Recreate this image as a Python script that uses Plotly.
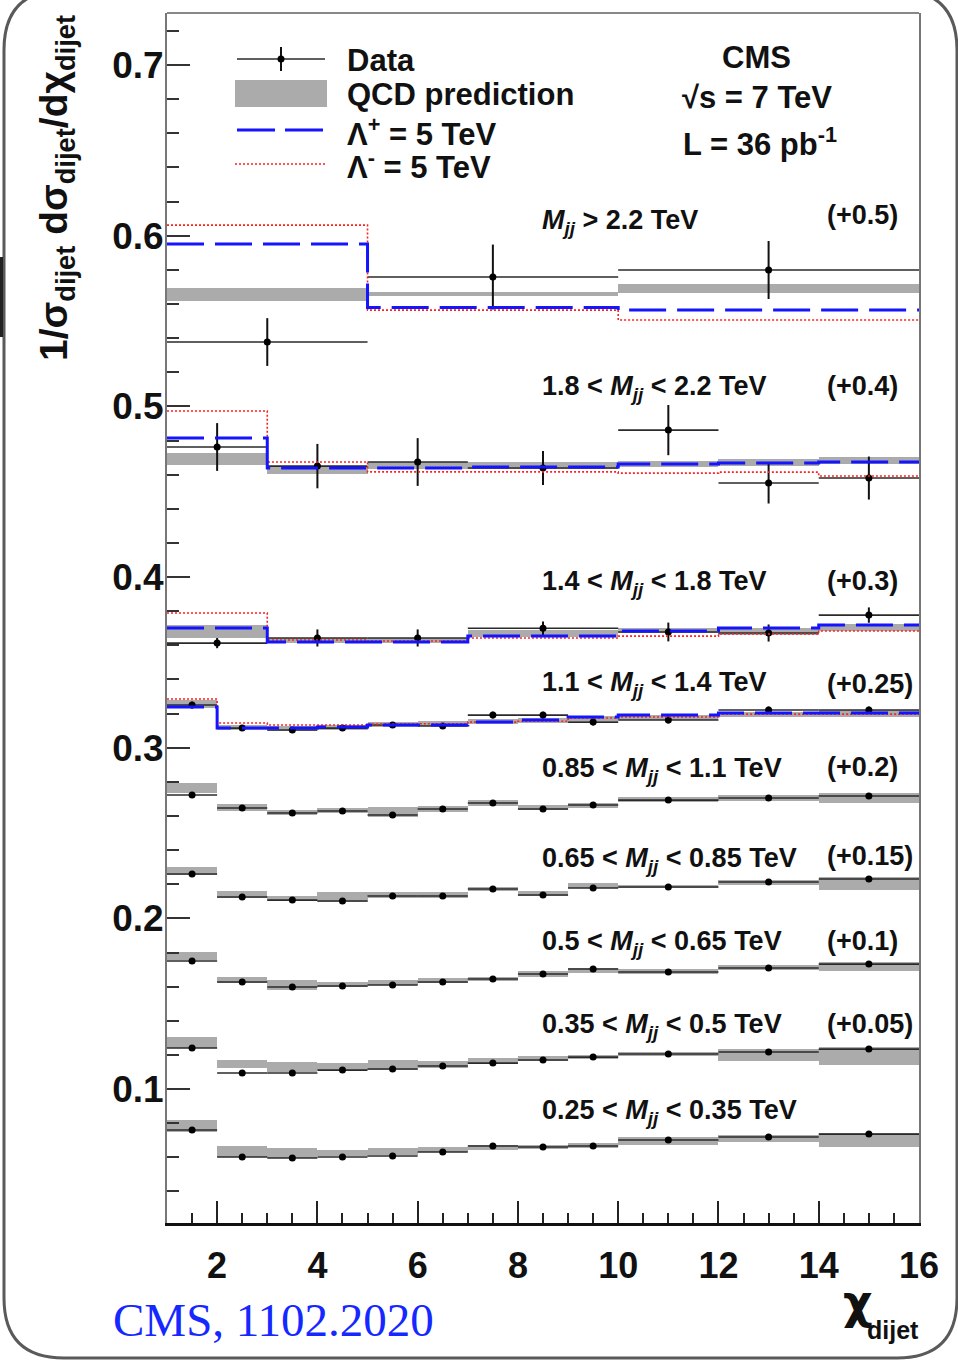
import plotly.graph_objects as go

W, H = 958, 1362
ML, MR, MT, MB = 167, 39, 13, 139
PW, PH = W - ML - MR, H - MT - MB


def px(x):
    return (x - ML) / PW


def py(y):
    return (H - MB - y) / PH


# ---------------- data (values as plotted, offsets included) ----------------
edges_fine = [1, 2, 3, 4, 5, 6, 7, 8, 9, 10, 12, 14, 16]
edges_mid = [1, 3, 5, 7, 10, 12, 14, 16]
edges_coarse = [1, 5, 10, 16]

# M > 2.2 TeV (+0.5)
m22_data = [0.5377, 0.5758, 0.5799]
m22_err = [0.014, 0.019, 0.017]
m22_qcd = [0.5658, 0.5660, 0.5690]
m22_qcd_hw = [0.0038, 0.0012, 0.0028]
m22_lplus = [0.5951, 0.5580, 0.5565]
m22_lminus = [0.6062, 0.5564, 0.5506]

# 1.8 < M < 2.2 TeV (+0.4)
m18_data = [0.4762, 0.4650, 0.4674, 0.4639, 0.4861, 0.4551, 0.4580]
m18_err = [0.014, 0.013, 0.014, 0.010, 0.0147, 0.012, 0.0126]
m18_qcd = [0.4691, 0.4627, 0.4655, 0.4655, 0.4660, 0.4670, 0.4685]
m18_qcd_hw = [0.0035, 0.0025, 0.002, 0.002, 0.0018, 0.002, 0.002]
m18_lplus = [0.4814, 0.4639, 0.4639, 0.4645, 0.4662, 0.4668, 0.4674]
m18_lminus = [0.4973, 0.4674, 0.4616, 0.4616, 0.4609, 0.4615, 0.4592]

# 1.4 < M < 1.8 TeV (+0.3)
m14_data = [0.3613, 0.3643, 0.3643, 0.3700, 0.3678, 0.3672, 0.3777]
m14_err = [0.003, 0.005, 0.005, 0.004, 0.0055, 0.005, 0.0045]
m14_qcd = [0.3681, 0.3628, 0.3628, 0.3668, 0.3685, 0.3680, 0.3703]
m14_qcd_hw = [0.004, 0.0015, 0.0015, 0.002, 0.0015, 0.002, 0.002]
m14_lplus = [0.3701, 0.3619, 0.3619, 0.3654, 0.3684, 0.3701, 0.3719]
m14_lminus = [0.3789, 0.3631, 0.3625, 0.3643, 0.3654, 0.3666, 0.3684]

# 1.1 < M < 1.4 TeV (+0.25)
m11_data = [0.3250, 0.3115, 0.3104, 0.3115, 0.3133, 0.3127, 0.3191, 0.3191, 0.3150, 0.3162, 0.3221, 0.3221]
m11_err = [0.002, 0.0015, 0.0015, 0.0015, 0.0015, 0.0015, 0.002, 0.002, 0.002, 0.002, 0.002, 0.002]
m11_qcd = [0.3255, 0.3118, 0.3112, 0.3120, 0.3135, 0.3140, 0.3155, 0.3160, 0.3170, 0.3178, 0.3195, 0.3200]
m11_qcd_hw = [0.0025, 0.0015, 0.0015, 0.0015, 0.0015, 0.0015, 0.0015, 0.0015, 0.0015, 0.0015, 0.0015, 0.002]
m11_lplus = [0.3238, 0.3115, 0.3115, 0.3121, 0.3133, 0.3133, 0.3150, 0.3162, 0.3180, 0.3191, 0.3203, 0.3203]
m11_lminus = [0.3285, 0.3145, 0.3133, 0.3133, 0.3138, 0.3140, 0.3150, 0.3155, 0.3174, 0.3180, 0.3197, 0.3197]

# 0.85 < M < 1.1 TeV (+0.2)
m085_data = [0.2723, 0.2647, 0.2617, 0.2629, 0.2606, 0.2641, 0.2676, 0.2641, 0.2664, 0.2693, 0.2705, 0.2717]
m085_err = [0.001] * 12
m085_qcd = [0.2764, 0.2648, 0.2620, 0.2630, 0.2624, 0.2641, 0.2676, 0.2650, 0.2660, 0.2695, 0.2705, 0.2705]
m085_qcd_hw = [0.003, 0.002, 0.0015, 0.0015, 0.003, 0.0015, 0.0015, 0.0015, 0.0015, 0.0015, 0.002, 0.0028]

# 0.65 < M < 0.85 TeV (+0.15)
m065_data = [0.2260, 0.2125, 0.2107, 0.2102, 0.2131, 0.2131, 0.2172, 0.2137, 0.2178, 0.2184, 0.2213, 0.2231]
m065_err = [0.001] * 12
m065_qcd = [0.2277, 0.2140, 0.2119, 0.2125, 0.2137, 0.2137, 0.2172, 0.2146, 0.2193, 0.2187, 0.2210, 0.2205]
m065_qcd_hw = [0.0025, 0.002, 0.0015, 0.003, 0.0015, 0.0015, 0.0012, 0.0015, 0.0015, 0.001, 0.0015, 0.0038]

# 0.5 < M < 0.65 TeV (+0.1)
m05_data = [0.1750, 0.1627, 0.1598, 0.1604, 0.1610, 0.1627, 0.1645, 0.1674, 0.1703, 0.1686, 0.1709, 0.1732]
m05_err = [0.001] * 12
m05_qcd = [0.1779, 0.1639, 0.1610, 0.1610, 0.1625, 0.1635, 0.1645, 0.1674, 0.1697, 0.1691, 0.1712, 0.1718]
m05_qcd_hw = [0.0025, 0.002, 0.003, 0.0015, 0.0015, 0.0015, 0.0012, 0.0015, 0.0015, 0.0015, 0.0015, 0.0025]

# 0.35 < M < 0.5 TeV (+0.05)
m035_data = [0.1240, 0.1094, 0.1094, 0.1111, 0.1117, 0.1135, 0.1152, 0.1170, 0.1187, 0.1205, 0.1217, 0.1234]
m035_err = [0.001] * 12
m035_qcd = [0.1272, 0.1147, 0.1130, 0.1132, 0.1140, 0.1146, 0.1164, 0.1181, 0.1190, 0.1205, 0.1198, 0.1194]
m035_qcd_hw = [0.0032, 0.0025, 0.0028, 0.002, 0.0028, 0.002, 0.0015, 0.0015, 0.0012, 0.0012, 0.0035, 0.0052]

# 0.25 < M < 0.35 TeV (+0)
m025_data = [0.0760, 0.0602, 0.0596, 0.0602, 0.0608, 0.0631, 0.0666, 0.0660, 0.0666, 0.0701, 0.0719, 0.0736]
m025_err = [0.001] * 12
m025_qcd = [0.0784, 0.0634, 0.0625, 0.0625, 0.0636, 0.0645, 0.0660, 0.0660, 0.0670, 0.0695, 0.0708, 0.0701]
m025_qcd_hw = [0.0035, 0.0032, 0.003, 0.002, 0.002, 0.0015, 0.0015, 0.0012, 0.0015, 0.0025, 0.002, 0.004]

mass_labels = [
    "<i>M</i><sub><i>jj</i></sub> > 2.2 TeV",
    "1.8 < <i>M</i><sub><i>jj</i></sub> < 2.2 TeV",
    "1.4 < <i>M</i><sub><i>jj</i></sub> < 1.8 TeV",
    "1.1 < <i>M</i><sub><i>jj</i></sub> < 1.4 TeV",
    "0.85 < <i>M</i><sub><i>jj</i></sub> < 1.1 TeV",
    "0.65 < <i>M</i><sub><i>jj</i></sub> < 0.85 TeV",
    "0.5 < <i>M</i><sub><i>jj</i></sub> < 0.65 TeV",
    "0.35 < <i>M</i><sub><i>jj</i></sub> < 0.5 TeV",
    "0.25 < <i>M</i><sub><i>jj</i></sub> < 0.35 TeV",
]
offset_labels = ["(+0.5)", "(+0.4)", "(+0.3)", "(+0.25)", "(+0.2)", "(+0.15)", "(+0.1)", "(+0.05)", ""]

x_tick_vals = [2, 4, 6, 8, 10, 12, 14, 16]
y_tick_vals = [0.1, 0.2, 0.3, 0.4, 0.5, 0.6, 0.7]

series = [
    (edges_coarse, m22_data, m22_err, m22_qcd, m22_qcd_hw),
    (edges_mid, m18_data, m18_err, m18_qcd, m18_qcd_hw),
    (edges_mid, m14_data, m14_err, m14_qcd, m14_qcd_hw),
    (edges_fine, m11_data, m11_err, m11_qcd, m11_qcd_hw),
    (edges_fine, m085_data, m085_err, m085_qcd, m085_qcd_hw),
    (edges_fine, m065_data, m065_err, m065_qcd, m065_qcd_hw),
    (edges_fine, m05_data, m05_err, m05_qcd, m05_qcd_hw),
    (edges_fine, m035_data, m035_err, m035_qcd, m035_qcd_hw),
    (edges_fine, m025_data, m025_err, m025_qcd, m025_qcd_hw),
]
lambda_sets = [
    (edges_coarse, m22_lplus, m22_lminus),
    (edges_mid, m18_lplus, m18_lminus),
    (edges_mid, m14_lplus, m14_lminus),
    (edges_fine, m11_lplus, m11_lminus),
]


def centers(e):
    return [(a + b) / 2 for a, b in zip(e[:-1], e[1:])]


def widths(e):
    return [(b - a) for a, b in zip(e[:-1], e[1:])]


fig = go.Figure()

GRAY = "#ababab"
# QCD bands
for edges, data, err, qcd, hw in series:
    fig.add_trace(go.Bar(
        x=centers(edges), width=widths(edges),
        base=[q - h for q, h in zip(qcd, hw)], y=[2 * h for h in hw],
        marker=dict(color=GRAY, line=dict(width=0)), hoverinfo="skip", showlegend=False))

# data points
for edges, data, err, qcd, hw in series:
    fig.add_trace(go.Scatter(
        x=centers(edges), y=data, mode="markers",
        marker=dict(color="black", size=7),
        error_x=dict(type="data", array=[w / 2 for w in widths(edges)], width=0, thickness=1.6, color="#2a2a2a"),
        error_y=dict(type="data", array=err, width=0, thickness=2, color="#111"),
        showlegend=False, hoverinfo="skip"))

# contact interaction curves
for edges, lp, lm in lambda_sets:
    fig.add_trace(go.Scatter(
        x=edges, y=lm + [lm[-1]], mode="lines",
        line=dict(color="#ff2020", width=1.6, dash="2px,2px", shape="hv"),
        showlegend=False, hoverinfo="skip"))
    fig.add_trace(go.Scatter(
        x=edges, y=lp + [lp[-1]], mode="lines",
        line=dict(color="#1414ff", width=3, dash="37px,11px", shape="hv"),
        showlegend=False, hoverinfo="skip"))

FONT = "Liberation Sans"
TXT = "#111"

annotations = []


def ann(text, x, y, size, xanchor="left", yanchor="middle", family=FONT, color=TXT, angle=0):
    annotations.append(dict(text=text, x=px(x), y=py(y), xref="paper", yref="paper",
                            xanchor=xanchor, yanchor=yanchor, showarrow=False,
                            textangle=angle, font=dict(family=family, size=size, color=color)))


# mass bin labels
label_y = [222, 388, 583, 684, 770, 860, 943, 1026, 1112]
off_y = [215, 386, 581, 684, 767, 856, 941, 1024, None]
for lab, yy in zip(mass_labels, label_y):
    ann("<b>" + lab + "</b>", 540, yy, 27)
for lab, yy in zip(offset_labels, off_y):
    if lab:
        ann("<b>" + lab + "</b>", 825, yy, 27)

# CMS block
ann("<b>CMS</b>", 756, 57, 31, xanchor="center")
ann("<b>√s = 7 TeV</b>", 757, 98, 31, xanchor="center")
ann("<b>L = 36 pb<sup>-1</sup></b>", 760, 142, 31, xanchor="center")

# legend texts
ann("<b>Data</b>", 345, 60, 31)
ann("<b>QCD prediction</b>", 345, 95, 31)
ann("<b>Λ<sup>+</sup> = 5 TeV</b>", 345, 132, 31)
ann("<b>Λ<sup>-</sup> = 5 TeV</b>", 345, 165, 31)

# axis titles
ann("<b>1/σ<sub>dijet</sub> dσ<sub>dijet</sub>/dχ<sub>dijet</sub></b>", 57, 188, 39,
    xanchor="center", angle=-90)
ann("<b>χ</b>", 858, 1302, 46, xanchor="center", family="DejaVu Sans")
ann("<b>dijet</b>", 921, 1330, 25, xanchor="right")

# source note
ann("CMS, 1102.2020", 111, 1320, 47, family="Liberation Serif", color="#1428ff")

shapes = []


def line_px(x0, y0, x1, y1, color, width, dash="solid"):
    shapes.append(dict(type="line", xref="paper", yref="paper",
                       x0=px(x0), y0=py(y0), x1=px(x1), y1=py(y1),
                       line=dict(color=color, width=width, dash=dash)))


# legend symbols
line_px(237, 59, 325, 59, "#2a2a2a", 1.6)
line_px(281, 47, 281, 71, "#111", 2)
shapes.append(dict(type="circle", xref="paper", yref="paper",
                   x0=px(277.5), x1=px(284.5), y0=py(55.5), y1=py(62.5),
                   fillcolor="black", line=dict(width=0)))
shapes.append(dict(type="rect", xref="paper", yref="paper",
                   x0=px(235), x1=px(327), y0=py(80), y1=py(107),
                   fillcolor=GRAY, line=dict(width=0)))
line_px(237, 130, 325, 130, "#1414ff", 3, "38px,10px")
line_px(235, 164, 325, 164, "#ff2020", 1.6, "2px,2px")

# top frame line
line_px(167, 13, 919, 13, "#888", 2)


# slide frame (rounded)
def P(x, y):
    return f"{px(x):.5f},{py(y):.5f}"


x0, x1, y0, y1, R = 4, 957, -10, 1358, 60
path = (f"M {P(x0 + R, y0)} L {P(x1 - R, y0)} Q {P(x1, y0)} {P(x1, y0 + R)} "
        f"L {P(x1, y1 - R)} Q {P(x1, y1)} {P(x1 - R, y1)} L {P(x0 + R, y1)} "
        f"Q {P(x0, y1)} {P(x0, y1 - R)} L {P(x0, y0 + R)} Q {P(x0, y0)} {P(x0 + R, y0)} Z")
shapes.append(dict(type="path", xref="paper", yref="paper", path=path,
                   line=dict(color="#5a5a5a", width=3), fillcolor="rgba(0,0,0,0)"))
shapes.append(dict(type="rect", xref="paper", yref="paper",
                   x0=px(0), x1=px(3), y0=py(257), y1=py(337),
                   fillcolor="#222", line=dict(width=0)))

fig.update_layout(
    width=W, height=H,
    margin=dict(l=ML, r=MR, t=MT, b=MB),
    paper_bgcolor="white", plot_bgcolor="white",
    barmode="overlay", bargap=0, showlegend=False,
    annotations=annotations, shapes=shapes,
    xaxis=dict(range=[1, 16], showgrid=False, zeroline=False,
               showline=True, linecolor="#111", linewidth=2.5,
               ticks="inside", ticklen=22, tickwidth=2, tickcolor="#222",
               tickmode="array", tickvals=x_tick_vals,
               ticktext=[f"<b>{v}</b>" for v in x_tick_vals],
               minor=dict(ticks="inside", ticklen=10, tickwidth=1.5, tickcolor="#222",
                          tickmode="linear", tick0=0, dtick=0.5, showgrid=False),
               tickfont=dict(family=FONT, size=36, color=TXT),
               ticklabelstandoff=9),
    yaxis=dict(range=[0.0215, 0.7305], showgrid=False, zeroline=False,
               showline=True, linecolor="#777", linewidth=2, mirror=True,
               ticks="inside", ticklen=23, tickwidth=2, tickcolor="#333",
               tickmode="array", tickvals=y_tick_vals,
               ticktext=[f"<b>{v:.1f}</b>" for v in y_tick_vals],
               minor=dict(ticks="inside", ticklen=12, tickwidth=1.5, tickcolor="#333",
                          tickmode="linear", tick0=0, dtick=0.02, showgrid=False),
               tickfont=dict(family=FONT, size=37, color=TXT),
               ticklabelstandoff=-6),
)

fig.write_html("out.html", config={"displayModeBar": False},
               post_script="document.body.style.margin='0px';")
